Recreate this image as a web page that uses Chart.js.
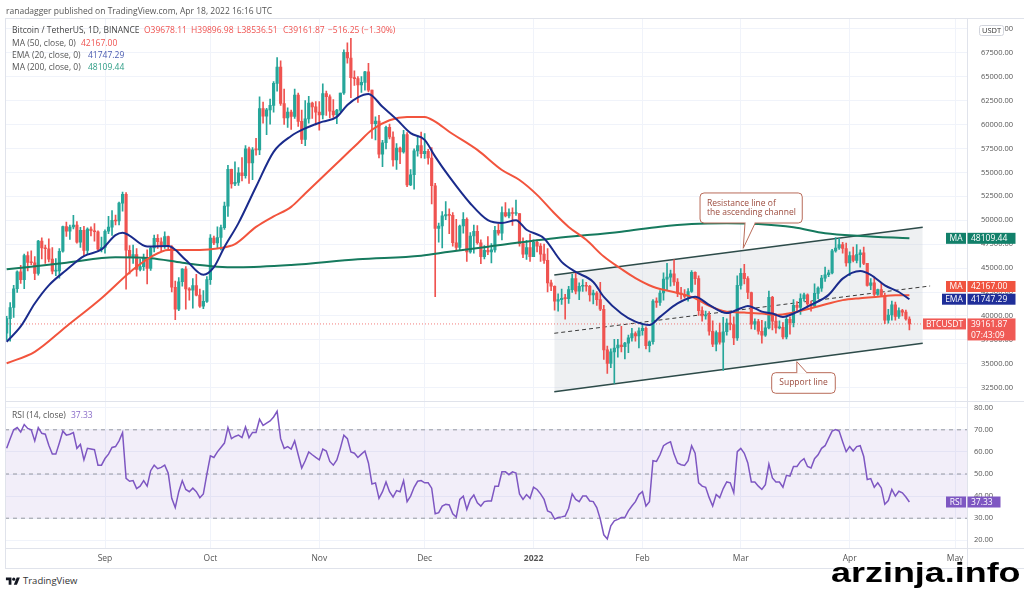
<!DOCTYPE html>
<html>
<head>
<meta charset="utf-8">
<title>BTCUSDT 1D</title>
<script src="https://cdn.jsdelivr.net/npm/chart.js@4.4.1/dist/chart.umd.min.js"></script>
<style>
  html, body { margin: 0; padding: 0; background: #fff; }
  #page { position: relative; width: 1024px; height: 592px; overflow: hidden; font-family: 'Open Sans', sans-serif; }
  #priceChart, #rsiChart { position: absolute; left: 0; }
  #priceChart { top: 0; }
  #rsiChart { top: 400px; }
  .txt { position: absolute; white-space: nowrap; font-size: 8.5px; line-height: 10px; color: #555; }
  .red { color: #ef5350; }
  .blue { color: #4a5bb0; }
  .teal { color: #2e9d86; }
  .purple { color: #8a6cc8; }
  .rule { position: absolute; background: #e0e3eb; }
  #brand { position: absolute; left: 5px; top: 576px; }
  #watermark { position: absolute; left: 831px; top: 560px; font-family: 'Liberation Sans', Arial, sans-serif; font-weight: bold; font-size: 27px; line-height: 27px; color: #000; transform: scaleX(1.33); transform-origin: left top; white-space: nowrap; }
</style>
</head>
<body>
<div id="page">
  <canvas id="priceChart" width="1024" height="401"></canvas>
  <canvas id="rsiChart" width="1024" height="170"></canvas>

  <div class="rule" style="left:5px;top:18px;width:1019px;height:1px"></div>
  <div class="rule" style="left:5px;top:18px;width:1px;height:551px"></div>
  <div class="rule" style="left:5px;top:401px;width:1019px;height:1px"></div>
  <div class="rule" style="left:5px;top:548px;width:1019px;height:1px"></div>
  <div class="rule" style="left:5px;top:568px;width:1019px;height:1px"></div>
  <div class="rule" style="left:967px;top:548px;width:1px;height:20px"></div>

  <div class="txt" style="left:6px;top:6px">ranadagger published on TradingView.com, Apr 18, 2022 16:16 UTC</div>
  <div class="txt" style="left:12px;top:25px;color:#444">Bitcoin / TetherUS, 1D, BINANCE</div>
  <div class="txt red" style="left:144px;top:25px">O39678.11</div>
  <div class="txt red" style="left:191px;top:25px">H39896.98</div>
  <div class="txt red" style="left:237px;top:25px">L38536.51</div>
  <div class="txt red" style="left:283px;top:25px">C39161.87</div>
  <div class="txt red" style="left:328px;top:25px">−516.25 (−1.30%)</div>
  <div class="txt" style="left:12px;top:38px">MA (50, close, 0)</div>
  <div class="txt red" style="left:81px;top:38px">42167.00</div>
  <div class="txt" style="left:12px;top:50px">EMA (20, close, 0)</div>
  <div class="txt blue" style="left:88px;top:50px">41747.29</div>
  <div class="txt" style="left:12px;top:62px">MA (200, close, 0)</div>
  <div class="txt teal" style="left:88px;top:62px">48109.44</div>

  <div class="txt" style="left:12px;top:410px">RSI (14, close)</div>
  <div class="txt purple" style="left:71px;top:410px">37.33</div>

  <svg id="brand" width="16" height="11" viewBox="0 0 36 28">
    <path d="M14 22H7V11H0V4h14v18zM28 22h-8l7.5-18h8L28 22z" fill="#131722"/>
    <circle cx="20" cy="8" r="4" fill="#131722"/>
  </svg>
  <div class="txt" style="left:23px;top:576px;font-size:9.5px;color:#333">TradingView</div>

  <div id="watermark">arzinja.info</div>
</div>

<script>
  // Calendar: day 0 = 4 Aug 2021, last candle = 18 Apr 2022 (day 257)
  const monthDays = [28, 58, 89, 119, 150, 181, 209, 240, 270];
  const monthLabels = ['Sep', 'Oct', 'Nov', 'Dec', '2022', 'Feb', 'Mar', 'Apr', 'May'];
  const priceTicks = [32500, 35000, 37500, 40000, 42500, 45000, 47500, 50000, 52500, 55000, 57500, 60000, 62500, 65000, 67500, 70000];
  const rsiTicks = [20, 30, 40, 50, 60, 70, 80];
  const rsiLevels = [70, 50, 30];

  // Daily candles (open of each day = previous close)
  const firstOpen = 38200;
  const closes = [
    39720, 40880, 42840, 44610, 43800, 46300, 45600, 45560, 44430, 47830,
    47100, 47020, 45940, 44690, 44710, 46760, 49340, 48870, 49290, 49500,
    47700, 48950, 46850, 49070, 48900, 48800, 46980, 47150,
    48850, 49280, 49980, 49920, 51790, 52700, 46860, 46080, 46400, 44850,
    45150, 46100, 44960, 47100, 48120, 47750, 47300, 48300, 47250, 43000,
    40700, 43570, 44900, 42820, 42700, 43180, 42170, 41030, 41520, 43790,
    48140, 47630, 48200, 49220, 51470, 55320, 53800, 53950, 54950, 54660,
    57470, 56000, 57370, 57350, 61670, 60880, 61530, 62000, 64300, 66000,
    62200, 60690, 61300, 60850, 63080, 60330, 58450, 60600, 62250, 61850, 61300,
    61000, 63230, 62900, 61400, 61000, 61500, 63300, 67550, 66950, 64900,
    64800, 64150, 64400, 65500, 63600, 60100, 60350, 56900, 58100, 59700,
    58700, 56300, 57550, 57150, 58950, 53700, 54750, 57250, 57800, 56950,
    57200, 56500, 53600, 49150, 49400, 50450, 50600, 50500, 47650, 47150,
    49400, 50100, 46700, 48350, 48850, 47650, 46200, 46850, 46700, 46900,
    48950, 48650, 50800, 50450, 50800, 50700, 50700, 47550, 46450, 47150, 46200,
    47700, 47300, 46450, 45800, 43450, 43100, 41550, 41700, 41850, 41800,
    42750, 43900, 42600, 43100, 43200, 43100, 42200, 42400, 41700, 40700,
    36450, 35050, 36250, 36650, 36950, 36800, 37150, 37700, 38150, 37900, 38450,
    38700, 36900, 37300, 41550, 41400, 42400, 43850, 44050, 44400, 43550,
    42400, 42250, 42050, 42550, 44550, 43900, 40550, 40000, 40100, 38400,
    37050, 38250, 37250, 38350, 39250, 39100, 37700, 43200,
    44450, 43900, 42450, 39150, 39400, 38400, 38000, 38750, 41950, 39450,
    38750, 38800, 37800, 39650, 39300, 41100, 40900, 41800, 42200, 41250,
    41050, 42350, 42900, 43950, 44300, 44500, 46800, 47100, 47450, 47050, 45550,
    46300, 45800, 46400, 46600, 45500, 43200, 43450, 42250, 42750, 42150,
    39550, 40100, 41150, 39950, 40550, 40400, 39678.11, 39161.87
  ];
  const highs = [
    39950, 41400, 43200, 44700, 45300, 46450, 46700, 46800, 46200, 47900,
    48150, 47400, 48050, 47150, 46000, 47050, 49400, 49800, 49500, 50500,
    49850, 49250, 49350, 49200, 49300, 49650, 48900, 48250,
    49000, 50400, 51000, 50550, 51900, 52950, 52900, 47350, 47400, 47050,
    45950, 46450, 46900, 47250, 48450, 48500, 48150, 48800, 48350, 47350,
    43650, 44000, 44950, 45150, 42950, 43900, 44350, 42800, 42650, 44100,
    48500, 48350, 49300, 49500, 51900, 55750, 55350, 56100, 55500, 56550,
    57800, 57650, 57600, 58550, 62900, 62350, 61700, 62650, 64500, 67000,
    66650, 63700, 61750, 61500, 63700, 63300, 61500, 62500, 62950, 62350, 62400,
    62400, 64250, 63500, 63100, 62600, 61600, 63300, 67800, 68550, 69000,
    65600, 65000, 65000, 65550, 66400, 63600, 60800, 60950, 58350, 59850,
    60050, 59250, 58000, 57650, 59400, 59150, 55300, 57450, 58850, 59200,
    59050, 57400, 57600, 53850, 49700, 50900, 51950, 51200, 50800, 50100,
    49500, 50800, 50250, 48700, 49500, 49450, 47950, 47350, 48300, 47550,
    49350, 49600, 51400, 51850, 51200, 51300, 52100, 50700, 48150, 47900, 48550,
    47950, 47950, 47550, 47500, 47050, 43750, 43150, 42300, 42800, 42250,
    43100, 44350, 44450, 43450, 43800, 43500, 43200, 42700, 42550, 43500,
    41100, 36850, 36550, 37550, 37550, 38900, 37250, 38000, 38700, 38350, 38750,
    39250, 38850, 37400, 41700, 41900, 42650, 44500, 45500, 44800, 45850,
    43900, 43000, 42750, 42850, 44750, 44600, 44200, 40950, 40500, 40450,
    39500, 38450, 39250, 39850, 39700, 40300, 39900, 44200,
    44950, 45400, 44100, 42500, 39700, 39650, 39550, 39400, 42600, 42050,
    40250, 39500, 39300, 39950, 39900, 41700, 41500, 42300, 42400, 42300,
    41550, 43350, 43050, 44250, 45100, 44800, 46950, 48200, 48100, 47700, 47600,
    46700, 47200, 47450, 46900, 47200, 45500, 43900, 43950, 42800, 43400,
    42400, 40700, 41550, 41450, 40850, 40700, 40600, 39896.98
  ];
  const lows = [
    37500, 37350, 39850, 42450, 43400, 42850, 44700, 45350, 43800, 44250,
    45950, 45500, 45650, 44400, 44200, 43950, 46650, 48300, 48000, 49100,
    47600, 47150, 46300, 46400, 48350, 47800, 46850, 46700,
    46550, 48600, 48400, 49500, 49500, 50950, 42800, 44400, 45500, 44150,
    44700, 44750, 43350, 44750, 46700, 47050, 46800, 47050, 46850, 42500,
    39600, 40550, 43100, 40700, 41650, 40800, 42100, 40900, 40750, 41400,
    43300, 47450, 47100, 46900, 49050, 50400, 53350, 53600, 53650, 54100,
    54400, 53850, 54250, 56800, 56850, 60150, 58950, 60050, 61300, 63500,
    62000, 60000, 59700, 59500, 60650, 59800, 58000, 57800, 60150, 60650, 59950,
    59400, 60600, 60950, 60700, 60750, 60100, 61350, 63150, 66400, 62800,
    64100, 62300, 63350, 63600, 63400, 58550, 58400, 56500, 55600, 57450,
    58500, 55650, 55300, 55900, 57000, 53500, 53600, 53250, 56700, 56500,
    56450, 55850, 51700, 42000, 47700, 47100, 50050, 48600, 47300, 46900,
    46850, 48650, 45700, 46550, 46550, 47500, 45450, 45950, 46400, 45550,
    46650, 48450, 47950, 50350, 50250, 49450, 50500, 47300, 46100, 45900, 45700,
    46200, 46700, 45700, 45500, 42500, 42650, 40600, 40500, 41200, 39650,
    41300, 42450, 42300, 41700, 42550, 42600, 41550, 41250, 41100, 40550,
    35450, 34000, 34600, 32950, 35700, 36250, 35500, 36150, 37350, 37350, 36650,
    38000, 36550, 36250, 37050, 40900, 41100, 41650, 42650, 43100, 43200,
    42000, 41750, 41850, 41550, 42450, 43300, 40050, 39450, 39650, 38000,
    36800, 36350, 37050, 34300, 38000, 38550, 37000, 37450,
    42800, 43350, 41800, 38650, 38600, 38100, 37150, 37850, 38650, 38550,
    38200, 38650, 37600, 37600, 38100, 38850, 40500, 40150, 41550, 40900,
    40500, 40900, 41800, 42550, 43600, 44100, 44400, 46650, 46950, 46550, 45200,
    44200, 45650, 45550, 45100, 45350, 43100, 42750, 42100, 42150, 42100,
    39200, 39250, 39550, 39550, 39750, 40000, 39550, 38536.51
  ];

  // Indicator lines (day, value)
  const ema20Days = [0, 4, 8, 12, 17, 22, 27, 31, 33, 40, 46, 51, 56, 59, 62, 66, 71, 76, 81, 85,
    90, 94, 97, 100, 103, 107, 111, 115, 119, 122, 126, 132, 137, 141, 145, 148, 153, 158, 162, 167,
    170, 175, 179, 183, 186, 191, 196, 200, 205, 209, 211, 215, 218, 221, 224, 229, 234, 238, 243, 246,
    250, 254, 257];
  const ema20Values = [37300, 38900, 41300, 43200, 44800, 46250, 46950, 48450, 48700, 47250, 47300, 45850, 44300, 45100, 47200, 49700, 53500, 57150, 58800, 59600,
    60300, 60800, 62050, 62850, 63200, 61850, 60550, 59100, 58400, 56650, 54550, 51750, 50000, 49700, 50000, 49000, 48100, 45650, 44600, 43550,
    42000, 40250, 39400, 39050, 39900, 41300, 42000, 41150, 40300, 40800, 41050, 40450, 40250, 39900, 40250, 41150, 42200, 43900, 44700, 44300,
    43200, 42500, 41747.29];
  const ma50Days = [0, 8, 17, 27, 36, 41, 46, 50, 55, 60, 65, 71, 76, 81, 85, 90, 95, 100, 104, 109,
    114, 119, 122, 126, 134, 141, 146, 151, 156, 160, 165, 170, 175, 179, 184, 191, 196, 200, 205, 210,
    215, 219, 224, 229, 234, 238, 243, 248, 253, 257];
  const ma50Values = [35050, 36250, 38900, 41850, 44850, 46150, 46900, 46900, 46900, 47050, 47500, 49300, 50400, 51400, 52800, 54550, 56300, 58050, 59450, 60450,
    60800, 60800, 60300, 59250, 57350, 55250, 54200, 52650, 50700, 49300, 47950, 46200, 44900, 43950, 43050, 42400, 41850, 41050, 40450, 40350,
    40250, 40100, 40350, 40800, 41300, 41650, 41850, 42000, 42150, 42167.00];
  const ma200Days = [0, 17, 31, 41, 50, 60, 66, 81, 100, 118, 126, 137, 156, 175, 186, 195, 205, 214, 224, 233, 243, 257];
  const ma200Values = [44870, 45560, 46130, 46020, 45560, 45150, 45080, 45320, 45920, 46300, 46710, 47240, 48110, 48800, 49320, 49600, 49680, 49600, 49260, 48640, 48350, 48109.44];

  // Ascending channel drawn on the chart
  const channelDays = [155.9, 260.8];
  const channelTop = [44280, 49260];
  const channelBottom = [32080, 37140];
  const midDays = [155.9, 262.9];
  const midValues = [38185, 43130];
  const lastPrice = 39161.87;

  const rsiValues = [
    61.6, 66, 70, 71, 69, 72.4, 70.6, 70, 65, 71,
    68.4, 68, 63, 59, 59, 64, 69.4, 67.6, 68, 68.7,
    61.6, 63.4, 56.4, 61.6, 61.3, 61, 54, 54, 57, 59,
    62, 62.4, 65, 68.7, 48, 46.7, 47, 43.4, 44.5, 47,
    44.5, 51.5, 54, 52.4, 53, 54, 50.4, 39, 34.8, 42,
    47, 43, 42, 43.6, 42, 39.3, 41, 50, 58.2, 57.5,
    60, 62, 64, 71, 66, 67, 67.6, 66.5, 71.3, 66.4,
    68.8, 68.8, 74.8, 72, 73, 74, 75.8, 78.4, 66, 61.6,
    62.4, 61.3, 65, 58.7, 52.7, 56, 60, 58.7, 57.5, 56.4,
    61.3, 60.4, 55.7, 54, 56.4, 61.6, 67.6, 66, 60, 59.4,
    57.5, 59, 60.4, 55, 45.5, 46, 39, 42, 46.4, 42,
    39.6, 42.5, 42, 47, 37.5, 40, 44, 46.7, 47, 46,
    46, 43.6, 32, 32.5, 35.5, 36.3, 36, 32, 30.5, 38.5,
    40, 34, 38.5, 40.5, 37, 35.5, 37.5, 37.8, 37.8, 44.5,
    44.5, 51, 51, 49.7, 51, 50.4, 41, 38.5, 40.7, 39,
    44, 43, 41, 38.5, 33.3, 32.5, 29.6, 30.3, 30.6, 31,
    34.5, 41, 38.5, 37.5, 40, 40, 37.8, 37.5, 34.8, 29.6,
    22.5, 20.6, 26.6, 28.8, 29.5, 30.3, 30.3, 33.3, 35.5, 37.5,
    40.7, 42, 35.5, 37.5, 56, 55.7, 58.7, 62.8, 63.9, 64.6,
    59, 55, 54.2, 53.9, 56, 62.8, 59.4, 46, 44.5, 44,
    39.3, 35.5, 40.7, 39.3, 43.4, 46.4, 46, 41.5, 60.1, 61.6,
    59.4, 55, 46.4, 46.4, 44.5, 43, 45.2, 54.5, 48.2, 46.4,
    46.4, 44, 49.4, 49, 53.4, 53.4, 55.7, 56.9, 53.4, 52.7,
    56.9, 58.7, 61.6, 62.8, 66.1, 69.4, 70.1, 69.4, 64.6, 60.1,
    62.4, 60.4, 62.4, 62.8, 57.9, 47.5, 47.9, 44, 46, 43.7,
    36.3, 38, 43, 40, 42.2, 41.5, 39.6, 37.33
  ];

  // Callouts (data coordinates)
  const resistanceNote = { lines: ['Resistance line of', 'the ascending channel'], left: 197.4, right: 226.5, top: 52850, bottom: 49710, tipX: 209.7, tipY: 47070, baseX: [210.2, 213.1], tail: 'bottom', align: 'left' };
  const supportNote = { lines: ['Support line'], left: 217.8, right: 235.9, top: 34070, bottom: 31915, tipX: 224.95, tipY: 35220, baseX: [224.95, 227.8], tail: 'top', align: 'center' };

  // ---- layout / style ----
  const X_MIN = -0.47;
  const X_MAX = 273.4;
  const AXIS_W = 57;
  const UP = '#26a69a';
  const DOWN = '#ef5350';
  const GRID = '#f0f3fa';
  const FONT = "'Open Sans', sans-serif";
  const TAG_FONT = "8.5px 'Open Sans', sans-serif";

  Chart.defaults.font.family = FONT;

  function pts(xs, ys) {
    return xs.map((x, k) => ({ x: x, y: ys[k] }));
  }

  const opens = closes.map((c, i) => (i === 0 ? firstOpen : closes[i - 1]));
  const candleColors = closes.map((c, i) => (c >= opens[i] ? UP : DOWN));
  const wickData = closes.map((c, i) => ({ x: i, y: [lows[i], highs[i]] }));
  const bodyData = closes.map((c, i) => ({ x: i, y: [opens[i], c] }));

  function noPadding(scale) {
    scale.paddingTop = 0;
    scale.paddingBottom = 0;
    scale.paddingLeft = 0;
    scale.paddingRight = 0;
  }

  function drawTag(ctx, r, cy, name, values, color, nameW, valueW) {
    const h = 11;
    ctx.fillStyle = color;
    ctx.fillRect(r - 1 - nameW, cy - h / 2, nameW, h);
    ctx.fillRect(r + 0.5, cy - h / 2, valueW, h * values.length);
    ctx.fillStyle = '#fff';
    ctx.textAlign = 'center';
    ctx.fillText(name, r - 1 - nameW / 2, cy + 0.5);
    ctx.textAlign = 'left';
    values.forEach((v, k) => ctx.fillText(v, r + 4, cy + 0.5 + k * h));
  }

  function roundRectPath(ctx, l, t, w, h, rad) {
    ctx.beginPath();
    ctx.moveTo(l + rad, t);
    ctx.arcTo(l + w, t, l + w, t + h, rad);
    ctx.arcTo(l + w, t + h, l, t + h, rad);
    ctx.arcTo(l, t + h, l, t, rad);
    ctx.arcTo(l, t, l + w, t, rad);
    ctx.closePath();
  }

  function drawCallout(ctx, xs, ys, note) {
    const l = xs.getPixelForValue(note.left);
    const r = xs.getPixelForValue(note.right);
    const t = ys.getPixelForValue(note.top);
    const b = ys.getPixelForValue(note.bottom);
    const tx = xs.getPixelForValue(note.tipX);
    const ty = ys.getPixelForValue(note.tipY);
    const b1 = xs.getPixelForValue(note.baseX[0]);
    const b2 = xs.getPixelForValue(note.baseX[1]);
    const edge = note.tail === 'bottom' ? b : t;
    ctx.save();
    ctx.lineWidth = 1;
    ctx.strokeStyle = '#b86b59';
    ctx.fillStyle = '#fff';
    roundRectPath(ctx, l, t, r - l, b - t, 4);
    ctx.fill();
    ctx.stroke();
    ctx.beginPath();
    ctx.moveTo(b1, edge);
    ctx.lineTo(tx, ty);
    ctx.lineTo(b2, edge);
    ctx.closePath();
    ctx.fill();
    ctx.fillRect(b1 + 0.6, edge - 1, b2 - b1 - 1.2, 2);
    ctx.beginPath();
    ctx.moveTo(b1, edge);
    ctx.lineTo(tx, ty);
    ctx.lineTo(b2, edge);
    ctx.stroke();
    ctx.fillStyle = '#9c4b3d';
    ctx.font = "8.5px 'Open Sans', sans-serif";
    ctx.textBaseline = 'middle';
    const lh = 9.5;
    const y0 = (t + b) / 2 - (note.lines.length - 1) * lh / 2;
    note.lines.forEach((s, k) => {
      if (note.align === 'center') {
        ctx.textAlign = 'center';
        ctx.fillText(s, (l + r) / 2, y0 + k * lh);
      } else {
        ctx.textAlign = 'left';
        ctx.fillText(s, l + 7, y0 + k * lh);
      }
    });
    ctx.restore();
  }

  const calloutPlugin = {
    id: 'callouts',
    afterDatasetsDraw(chart) {
      const { ctx, scales } = chart;
      drawCallout(ctx, scales.x, scales.y, resistanceNote);
      drawCallout(ctx, scales.x, scales.y, supportNote);
    }
  };

  const priceTagPlugin = {
    id: 'priceTags',
    afterDraw(chart) {
      const { ctx, chartArea, scales } = chart;
      const y = scales.y;
      const r = chartArea.right;
      ctx.save();
      ctx.font = TAG_FONT;
      ctx.textBaseline = 'middle';
      const ma200Last = ma200Values[ma200Values.length - 1];
      const ma50Last = ma50Values[ma50Values.length - 1];
      const emaLast = ema20Values[ema20Values.length - 1];
      drawTag(ctx, r, y.getPixelForValue(ma200Last), 'MA', [ma200Last.toFixed(2)], '#12806a', 20, 48);
      // the MA50 tag is nudged up so it does not sit on the EMA tag
      drawTag(ctx, r, y.getPixelForValue(ma50Last) - 8.7, 'MA', [ma50Last.toFixed(2)], '#f0533f', 20, 48);
      drawTag(ctx, r, y.getPixelForValue(emaLast), 'EMA', [emaLast.toFixed(2)], '#1f2e99', 24, 48);
      drawTag(ctx, r, y.getPixelForValue(lastPrice), 'BTCUSDT', [lastPrice.toFixed(2), '07:43:09'], '#f05a55', 43, 48);
      // currency badge over the top price label
      ctx.fillStyle = '#fff';
      ctx.strokeStyle = '#d1d4dc';
      ctx.lineWidth = 1;
      roundRectPath(ctx, 979.5, 25.5, 24, 10, 2);
      ctx.fill();
      ctx.stroke();
      ctx.fillStyle = '#333';
      ctx.textAlign = 'center';
      ctx.font = "7.5px 'Open Sans', sans-serif";
      ctx.fillText('USDT', 991.5, 31);
      ctx.restore();
    }
  };

  new Chart(document.getElementById('priceChart'), {
    type: 'bar',
    data: {
      datasets: [
        { type: 'line', label: 'EMA 20', data: pts(ema20Days, ema20Values), borderColor: '#1a2b8c', borderWidth: 2, pointRadius: 0, cubicInterpolationMode: 'monotone', order: 1 },
        { type: 'line', label: 'MA 50', data: pts(ma50Days, ma50Values), borderColor: '#f2543d', borderWidth: 2, pointRadius: 0, cubicInterpolationMode: 'monotone', order: 2 },
        { type: 'line', label: 'MA 200', data: pts(ma200Days, ma200Values), borderColor: '#167a5e', borderWidth: 2, pointRadius: 0, cubicInterpolationMode: 'monotone', order: 3 },
        { type: 'bar', label: 'body', data: bodyData, backgroundColor: candleColors, barThickness: 2.5, minBarLength: 1, grouped: false, order: 4 },
        { type: 'bar', label: 'wick', data: wickData, backgroundColor: candleColors, barThickness: 1, grouped: false, order: 5 },
        { type: 'line', label: 'last', data: pts([X_MIN, X_MAX], [lastPrice, lastPrice]), borderColor: 'rgba(239,83,80,0.75)', borderWidth: 1, borderDash: [1, 2], pointRadius: 0, order: 6 },
        { type: 'line', label: 'mid', data: pts(midDays, midValues), borderColor: '#3a3a3a', borderWidth: 1, borderDash: [4, 3], pointRadius: 0, order: 7 },
        { type: 'line', label: 'resistance', data: pts(channelDays, channelTop), borderColor: '#2d4b49', borderWidth: 1.6, pointRadius: 0, order: 8 },
        { type: 'line', label: 'support', data: pts(channelDays, channelBottom), borderColor: '#2d4b49', borderWidth: 1.6, pointRadius: 0, fill: '-1', backgroundColor: 'rgba(190,198,204,0.26)', order: 8 }
      ]
    },
    options: {
      responsive: false,
      animation: false,
      events: [],
      layout: { padding: { left: 5, top: 18.5, right: 0, bottom: 0 } },
      plugins: { legend: { display: false }, tooltip: { enabled: false } },
      scales: {
        x: {
          type: 'linear', min: X_MIN, max: X_MAX, offset: false,
          grid: { color: GRID, drawTicks: false, offset: false },
          border: { display: false },
          ticks: { display: false },
          afterBuildTicks: s => { s.ticks = monthDays.map(v => ({ value: v })); },
          afterFit: s => { s.height = 0; noPadding(s); }
        },
        y: {
          position: 'right', min: 31110, max: 71081,
          grid: { color: GRID, drawTicks: false },
          border: { display: true, color: '#e0e3eb' },
          ticks: { padding: 14, color: '#555', autoSkip: false, font: { size: 7.5 }, callback: v => v.toFixed(2) },
          afterBuildTicks: s => { s.ticks = priceTicks.map(v => ({ value: v })); },
          afterFit: s => { s.width = AXIS_W; noPadding(s); }
        }
      }
    },
    plugins: [calloutPlugin, priceTagPlugin]
  });

  const rsiTagPlugin = {
    id: 'rsiTag',
    afterDraw(chart) {
      const { ctx, chartArea, scales } = chart;
      const last = rsiValues[rsiValues.length - 1];
      ctx.save();
      ctx.font = TAG_FONT;
      ctx.textBaseline = 'middle';
      drawTag(ctx, chartArea.right, scales.y.getPixelForValue(last), 'RSI', [last.toFixed(2)], '#7e57c2', 20, 33);
      ctx.restore();
    }
  };

  const levelLine = { borderColor: '#9598a1', borderWidth: 1, borderDash: [4, 4], pointRadius: 0 };

  new Chart(document.getElementById('rsiChart'), {
    type: 'line',
    data: {
      datasets: [
        { label: 'RSI', data: rsiValues.map((v, i) => ({ x: i, y: v })), borderColor: '#7e57c2', borderWidth: 1.5, pointRadius: 0, order: 1 },
        Object.assign({ label: 'upper', data: pts([X_MIN, X_MAX], [rsiLevels[0], rsiLevels[0]]), order: 3 }, levelLine),
        Object.assign({ label: 'lower', data: pts([X_MIN, X_MAX], [rsiLevels[2], rsiLevels[2]]), fill: '-1', backgroundColor: 'rgba(126,87,194,0.1)', order: 3 }, levelLine),
        Object.assign({ label: 'middle', data: pts([X_MIN, X_MAX], [rsiLevels[1], rsiLevels[1]]), order: 2 }, levelLine)
      ]
    },
    options: {
      responsive: false,
      animation: false,
      events: [],
      layout: { padding: { left: 5, top: 2, right: 0, bottom: 0 } },
      plugins: { legend: { display: false }, tooltip: { enabled: false } },
      scales: {
        x: {
          type: 'linear', min: X_MIN, max: X_MAX,
          grid: { color: GRID, drawTicks: false },
          border: { display: false },
          ticks: {
            padding: 5, color: '#555', autoSkip: false, maxRotation: 0,
            font: c => ({ size: 8.5, weight: c.tick && c.tick.value === monthDays[4] ? 'bold' : 'normal' }),
            callback: v => monthLabels[monthDays.indexOf(v)]
          },
          afterBuildTicks: s => { s.ticks = monthDays.map(v => ({ value: v })); },
          afterFit: s => { s.height = 22; noPadding(s); }
        },
        y: {
          position: 'right', min: 16.52, max: 82.58,
          grid: { color: GRID, drawTicks: false },
          border: { display: true, color: '#e0e3eb' },
          ticks: { padding: 7, color: '#555', autoSkip: false, font: { size: 7.5 }, callback: v => v.toFixed(2) },
          afterBuildTicks: s => { s.ticks = rsiTicks.map(v => ({ value: v })); },
          afterFit: s => { s.width = AXIS_W; noPadding(s); }
        }
      }
    },
    plugins: [rsiTagPlugin]
  });
</script>
</body>
</html>
